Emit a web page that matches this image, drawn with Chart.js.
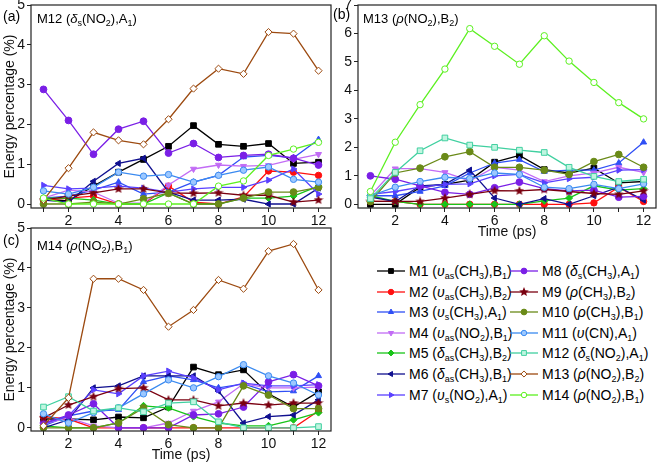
<!DOCTYPE html>
<html>
<head>
<meta charset="utf-8">
<script src="https://cdn.jsdelivr.net/npm/chart.js@4.4.1/dist/chart.umd.min.js"></script>
<style>
  body { margin: 0; background: #fff; width: 661px; height: 464px; position: relative; overflow: hidden;
         font-family: 'Liberation Sans', Arial, sans-serif; color: #000; }
  canvas { position: absolute; }
  .lbl { position: absolute; font-size: 14px; white-space: nowrap; line-height: 1; }
  .ttl { position: absolute; font-size: 13px; white-space: nowrap; line-height: 1; }
  sub { font-size: 9px; vertical-align: -3px; line-height: 0; }
  .row { position: absolute; font-size: 14px; white-space: nowrap; line-height: 1; }
  .row canvas { position: absolute; left: 0; top: 1px; }
  .row span { position: absolute; left: 32px; top: 0; }
</style>
</head>
<body>
<canvas id="chartA" width="336" height="230" style="left:0;top:0"></canvas>
<canvas id="chartB" width="325" height="241" style="left:336px;top:0"></canvas>
<canvas id="chartC" width="336" height="246" style="left:0;top:218px"></canvas>

<div class="lbl" style="left:3px;top:9px">(a)</div>
<div class="ttl" style="left:37px;top:12px">M12 (<i>δ</i><sub>s</sub>(NO<sub>2</sub>),A<sub>1</sub>)</div>
<div class="lbl" style="left:333px;top:7px">(b)</div>
<div class="ttl" style="left:363px;top:12px">M13 (<i>ρ</i>(NO<sub>2</sub>),B<sub>2</sub>)</div>
<div class="lbl" style="left:3px;top:233px">(c)</div>
<div class="ttl" style="left:37px;top:239px">M14 (<i>ρ</i>(NO<sub>2</sub>),B<sub>1</sub>)</div>
<div id="legend"></div>

<script>
// time axis (ps)
const timePs = [1, 2, 3, 4, 5, 6, 7, 8, 9, 10, 11, 12];

// vibrational modes M1..M14
const modeNames = ['M1', 'M2', 'M3', 'M4', 'M5', 'M6', 'M7', 'M8', 'M9', 'M10', 'M11', 'M12', 'M13', 'M14'];
const modeLabels = [
  'M1 (<i>υ</i><sub>as</sub>(CH<sub>3</sub>),B<sub>1</sub>)',
  'M2 (<i>υ</i><sub>as</sub>(CH<sub>3</sub>),B<sub>2</sub>)',
  'M3 (<i>υ</i><sub>s</sub>(CH<sub>3</sub>),A<sub>1</sub>)',
  'M4 (<i>υ</i><sub>as</sub>(NO<sub>2</sub>),B<sub>1</sub>)',
  'M5 (<i>δ</i><sub>as</sub>(CH<sub>3</sub>),B<sub>2</sub>)',
  'M6 (<i>δ</i><sub>as</sub>(CH<sub>3</sub>),B<sub>1</sub>)',
  'M7 (<i>υ</i><sub>s</sub>(NO<sub>2</sub>),A<sub>1</sub>)',
  'M8 (<i>δ</i><sub>s</sub>(CH<sub>3</sub>),A<sub>1</sub>)',
  'M9 (<i>ρ</i>(CH<sub>3</sub>),B<sub>2</sub>)',
  'M10 (<i>ρ</i>(CH<sub>3</sub>),B<sub>1</sub>)',
  'M11 (<i>υ</i>(CN),A<sub>1</sub>)',
  'M12 (<i>δ</i><sub>s</sub>(NO<sub>2</sub>),A<sub>1</sub>)',
  'M13 (<i>ρ</i>(NO<sub>2</sub>),B<sub>2</sub>)',
  'M14 (<i>ρ</i>(NO<sub>2</sub>),B<sub>1</sub>)'
];
const modeColors = ['#000000', '#ff1010', '#2f4ff5', '#c26cf5', '#19c419', '#10108f', '#5a40ff',
                    '#7a1fe6', '#7a0010', '#6a8a18', '#3a8af0', '#40d0a0', '#9c4a10', '#5cf020'];
const modeFills  = ['#000000', '#ff1010', '#2f4ff5', '#c26cf5', '#19c419', '#10108f', '#5a40ff',
                    '#7a1fe6', '#7a0010', '#6a8a18', '#9cc8ff', '#c0f5e0', '#ffffff', '#ffffff'];

// (a) energy flowing out of M12, % per mode (null = the excited mode itself)
const panelA = [
  [0.12, 0.08, 0.45, 0.80, 1.12, 1.45, 1.97, 1.50, 1.45, 1.52, 1.02, 1.05],
  [0.10, 0.15, 0.20, 0.00, 0.00, 0.45, 0.05, 0.00, 0.18, 0.83, 0.80, 0.72],
  [0.15, 0.20, 0.35, 0.55, 0.25, 0.30, 0.55, 0.72, 1.18, 1.22, 1.16, 1.62],
  [0.15, 0.35, 0.30, 0.02, 0.02, 0.48, 0.88, 0.98, 0.95, 0.97, 1.12, 1.25],
  [0.15, 0.15, 0.10, 0.00, 0.00, 0.28, 0.00, 0.00, 0.15, 0.15, 0.20, 0.45],
  [0.10, 0.05, 0.57, 1.02, 1.15, 0.30, 0.10, 0.10, 0.12, 0.00, 0.00, 0.40],
  [0.47, 0.38, 0.40, 0.45, 0.40, 0.30, 0.38, 0.42, 0.42, 0.60, 0.88, 0.25],
  [2.88, 2.10, 1.25, 1.88, 2.08, 1.28, 1.52, 1.17, 1.22, 1.25, 1.15, 0.98],
  [0.10, 0.20, 0.28, 0.38, 0.38, 0.28, 0.27, 0.28, 0.22, 0.22, 0.05, 0.10],
  [0.00, 0.00, 0.05, 0.00, 0.13, 0.27, 0.00, 0.00, 0.15, 0.30, 0.30, 0.42],
  [0.33, 0.25, 0.42, 0.80, 0.70, 0.74, 0.55, 0.72, 0.85, 0.93, 0.62, 0.55],
  null,
  [0.10, 0.90, 1.80, 1.60, 1.50, 2.13, 2.90, 3.40, 3.27, 4.32, 4.28, 3.35],
  [0.15, 0.00, 0.00, 0.00, 0.00, 0.00, 0.00, 0.45, 0.58, 1.22, 1.38, 1.55]
];

// (b) energy flowing out of M13
const panelB = [
  [0.00, 0.00, 0.60, 0.70, 0.85, 1.48, 1.72, 1.22, 1.10, 1.27, 0.75, 0.80],
  [0.10, 0.10, 0.00, 0.00, 0.00, 0.00, 0.00, 0.00, 0.00, 0.05, 0.60, 0.10],
  [0.30, 0.30, 0.45, 0.65, 1.10, 1.45, 1.57, 1.15, 1.20, 1.20, 1.45, 2.18],
  [0.30, 1.25, 1.25, 1.12, 0.82, 1.30, 1.20, 0.80, 1.00, 1.10, 1.30, 1.12],
  [0.30, 0.10, 0.00, 0.00, 0.00, 0.00, 0.00, 0.12, 0.22, 0.65, 0.50, 0.55],
  [0.25, 0.10, 0.65, 0.70, 1.20, 0.22, 0.00, 0.20, 0.00, 0.30, 0.60, 0.15],
  [0.35, 0.45, 0.60, 0.70, 0.72, 1.00, 1.05, 0.75, 0.90, 0.95, 1.20, 1.22],
  [1.00, 0.88, 0.65, 0.42, 0.35, 0.58, 0.78, 0.55, 0.47, 0.50, 0.25, 0.28],
  [0.10, 0.10, 0.10, 0.22, 0.35, 0.48, 0.47, 0.52, 0.45, 0.38, 0.35, 0.47],
  [0.10, 1.10, 1.27, 1.67, 1.85, 1.30, 1.30, 1.20, 1.05, 1.50, 1.75, 1.30],
  [0.30, 0.60, 0.80, 0.95, 0.90, 1.10, 1.05, 0.60, 0.55, 0.70, 0.55, 0.72],
  [0.20, 1.12, 1.88, 2.33, 2.08, 2.00, 1.90, 1.82, 1.30, 0.98, 0.80, 0.88],
  null,
  [0.45, 2.18, 3.50, 4.75, 6.17, 5.55, 4.92, 5.92, 5.03, 4.28, 3.57, 3.00]
];

// (c) energy flowing out of M14
const panelC = [
  [0.22, 0.22, 0.20, 0.27, 0.25, 0.52, 1.52, 1.33, 1.45, 0.85, 0.52, 0.90],
  [0.28, 0.22, 0.00, 0.00, 0.00, 0.00, 0.00, 0.00, 0.00, 0.00, 0.00, 0.42],
  [0.05, 0.30, 0.42, 0.45, 1.15, 1.30, 1.20, 1.00, 1.10, 0.90, 0.92, 1.30],
  [0.10, 0.25, 0.05, 0.00, 0.00, 0.12, 0.42, 0.65, 1.10, 1.00, 1.00, 1.02],
  [0.05, 0.00, 0.00, 0.12, 0.55, 0.50, 0.28, 0.12, 0.05, 0.05, 0.20, 0.38],
  [0.00, 0.20, 1.00, 1.05, 1.30, 1.30, 1.30, 0.92, 0.12, 0.28, 0.32, 0.70],
  [0.10, 0.30, 0.95, 0.85, 1.30, 1.42, 1.25, 0.95, 1.12, 1.05, 1.05, 1.08],
  [0.12, 0.32, 0.60, 0.00, 0.00, 0.00, 0.32, 0.35, 0.52, 1.15, 1.33, 1.05],
  [0.25, 0.57, 0.78, 0.98, 1.00, 0.70, 0.70, 0.55, 0.62, 0.57, 0.62, 0.62],
  [0.00, 0.00, 0.00, 0.12, 0.50, 0.08, 0.00, 0.00, 1.05, 0.82, 0.48, 0.48],
  [0.35, 0.12, 0.38, 0.50, 0.85, 1.20, 1.00, 1.28, 1.58, 1.30, 1.12, 0.82],
  [0.52, 0.78, 0.42, 0.50, 0.40, 0.62, 0.65, 0.15, 0.00, 0.00, 0.00, 0.03],
  [0.05, 0.75, 3.73, 3.73, 3.45, 2.53, 2.95, 3.70, 3.48, 4.42, 4.60, 3.45],
  null
];

// filled five-point star for M9 (Chart.js 'star' is only strokes)
function makeStar(color, size) {
  const c = document.createElement('canvas');
  c.width = size; c.height = size;
  const g = c.getContext('2d');
  const cx = size / 2, cy = size / 2, ro = size / 2, ri = ro * 0.45;
  g.beginPath();
  for (let i = 0; i < 10; i++) {
    const r = i % 2 ? ri : ro;
    const a = -Math.PI / 2 + i * Math.PI / 5;
    g.lineTo(cx + r * Math.cos(a), cy + r * Math.sin(a));
  }
  g.closePath();
  g.fillStyle = color;
  g.fill();
  return c;
}
const starImg = makeStar('#7a0010', 10);

const pointStyles = ['rect', 'circle', 'triangle', 'triangle', 'rectRot', 'triangle', 'triangle',
                     'circle', starImg, 'circle', 'circle', 'rect', 'rectRot', 'circle'];
const pointRotations = [0, 0, 0, 180, 0, -90, 90, 0, 0, 0, 0, 0, 0, 0];
const pointRadii = [4, 3.2, 3.5, 3.5, 3.5, 3.5, 3.5, 3.4, 4, 3.4, 3.2, 4, 3.6, 3.2];

const FONT = "'Liberation Sans', Arial, sans-serif";

// black box around the plot area
const framePlugin = {
  id: 'frame',
  afterDraw(chart) {
    const { ctx, chartArea: a } = chart;
    ctx.save();
    ctx.strokeStyle = '#222';
    ctx.lineWidth = 1.2;
    ctx.strokeRect(a.left, a.top, a.right - a.left, a.bottom - a.top);
    ctx.restore();
  }
};

function makePanel(id, rows, yMin, yMax, cfg) {
  const datasets = [];
  rows.forEach((vals, i) => {
    if (!vals) return;
    datasets.push({
      label: modeNames[i],
      data: vals.map((v, k) => ({ x: timePs[k], y: v })),
      borderColor: modeColors[i],
      backgroundColor: modeFills[i],
      pointBorderColor: modeColors[i],
      pointBackgroundColor: modeFills[i],
      borderWidth: 1.3,
      pointBorderWidth: 1,
      pointStyle: pointStyles[i],
      pointRotation: pointRotations[i],
      pointRadius: pointRadii[i],
      tension: 0,
      order: 14 - i
    });
  });

  const yTicks = [];
  for (let v = 0; v <= yMax; v++) yTicks.push({ value: v });

  return new Chart(document.getElementById(id), {
    type: 'line',
    data: { datasets },
    plugins: [framePlugin],
    options: {
      responsive: false,
      animation: false,
      events: [],
      layout: { padding: cfg.padding },
      plugins: { legend: { display: false }, tooltip: { enabled: false } },
      scales: {
        x: {
          type: 'linear',
          min: 0.5,
          max: 12.5,
          afterBuildTicks: s => { s.ticks = timePs.map(v => ({ value: v })); },
          afterFit: s => { s.height = cfg.xHeight; s.paddingLeft = 0; s.paddingRight = 0; },
          border: { display: false },
          grid: { drawOnChartArea: false, drawTicks: true, tickLength: 4, color: '#222', lineWidth: 1 },
          ticks: {
            autoSkip: false, maxRotation: 0, padding: 1, color: '#111',
            font: { family: FONT, size: 14 },
            callback: v => (v % 2 === 0 ? v : '')
          },
          title: {
            display: cfg.xTitle, text: 'Time (ps)', color: '#111',
            font: { family: FONT, size: 14 }, padding: { top: 0, bottom: 0 }
          }
        },
        y: {
          min: yMin,
          max: yMax,
          afterBuildTicks: s => { s.ticks = yTicks.slice(); },
          afterFit: s => { s.width = cfg.yWidth; s.paddingTop = 0; s.paddingBottom = 0; },
          border: { display: false },
          grid: { drawOnChartArea: false, drawTicks: true, tickLength: 4, color: '#222', lineWidth: 1 },
          ticks: { padding: 2, color: '#111', font: { family: FONT, size: 14 } },
          title: {
            display: cfg.yTitle, text: 'Energy percentage (%)', color: '#111',
            font: { family: FONT, size: 14 }, padding: { top: 2, bottom: 0 }
          }
        }
      }
    }
  });
}

makePanel('chartA', panelA, -0.1, 5, {
  padding: { top: 5, right: 4, left: 0, bottom: 0 }, yWidth: 31, xHeight: 22, xTitle: false, yTitle: true
});
makePanel('chartB', panelB, -0.13, 7, {
  padding: { top: 5, right: 2, left: 0, bottom: 0 }, yWidth: 22, xHeight: 33, xTitle: true, yTitle: false
});
makePanel('chartC', panelC, -0.08, 5, {
  padding: { top: 10, right: 4, left: 0, bottom: 0 }, yWidth: 31, xHeight: 33, xTitle: true, yTitle: true
});

// legend: two columns of seven rows
const legend = document.getElementById('legend');
modeNames.forEach((name, i) => {
  const col = i < 7 ? 0 : 1;
  const row = i % 7;
  const div = document.createElement('div');
  div.className = 'row';
  div.style.left = (col ? 510 : 377) + 'px';
  div.style.top = (264 + row * 20.6) + 'px';
  const sw = document.createElement('canvas');
  sw.width = 28; sw.height = 12;
  const g = sw.getContext('2d');
  g.strokeStyle = modeColors[i];
  g.lineWidth = 1.3;
  g.beginPath(); g.moveTo(0, 6); g.lineTo(28, 6); g.stroke();
  g.fillStyle = modeFills[i];
  g.lineWidth = 1;
  Chart.helpers.drawPoint(g, {
    pointStyle: pointStyles[i], rotation: pointRotations[i],
    radius: pointRadii[i] * 0.85, borderWidth: 1
  }, 14, 6);
  div.appendChild(sw);
  const txt = document.createElement('span');
  txt.innerHTML = modeLabels[i];
  div.appendChild(txt);
  legend.appendChild(div);
});
</script>
</body>
</html>
